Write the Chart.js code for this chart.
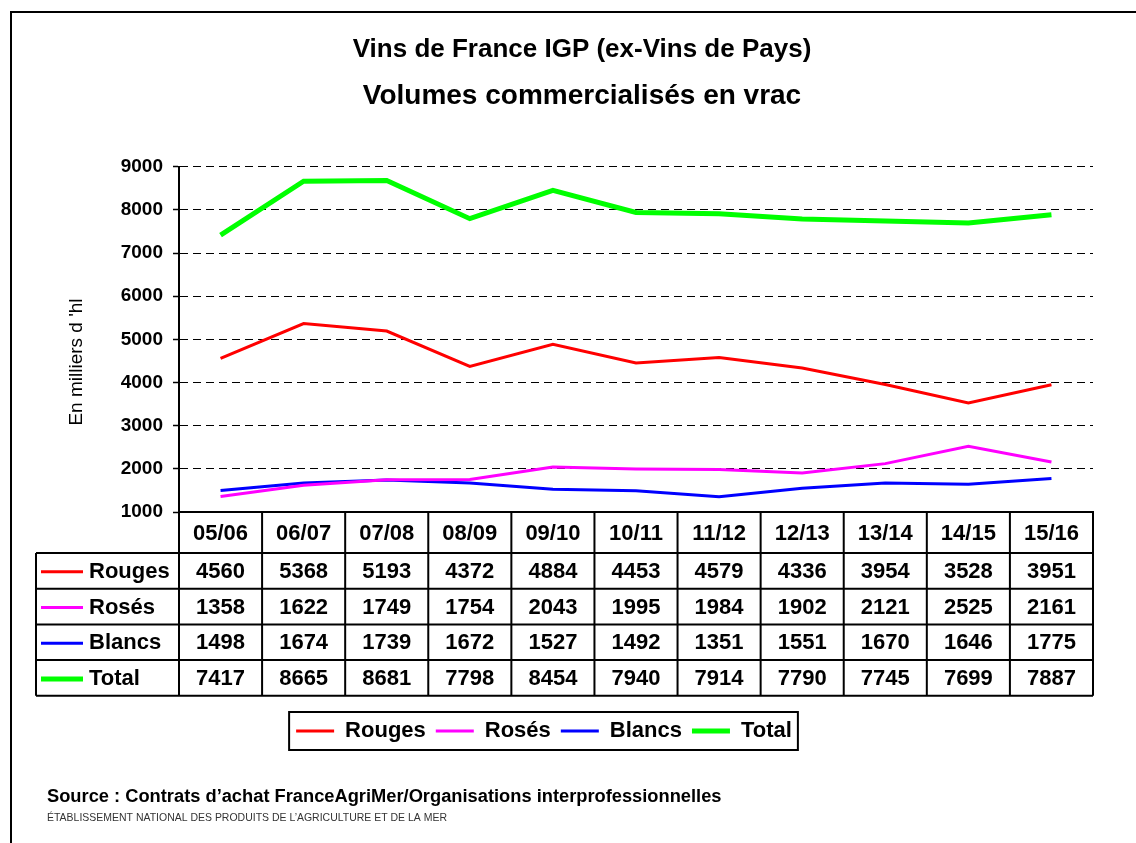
<!DOCTYPE html>
<html>
<head>
<meta charset="utf-8">
<title>Vins de France IGP - Volumes commercialisés en vrac</title>
<script src="https://cdn.jsdelivr.net/npm/chart.js@4.4.1/dist/chart.umd.min.js"></script>
<style>
  html, body { margin: 0; padding: 0; background: #fff; }
  canvas { display: block; }
</style>
</head>
<body>
<canvas id="myChart" width="1136" height="843"></canvas>
<script>
// campagnes (axe des x + entete du tableau)
var campagnes = ['05/06', '06/07', '07/08', '08/09', '09/10', '10/11', '11/12', '12/13', '13/14', '14/15', '15/16'];

// volumes en milliers d'hl
var rouges = [4560, 5368, 5193, 4372, 4884, 4453, 4579, 4336, 3954, 3528, 3951];
var roses  = [1358, 1622, 1749, 1754, 2043, 1995, 1984, 1902, 2121, 2525, 2161];
var blancs = [1498, 1674, 1739, 1672, 1527, 1492, 1351, 1551, 1670, 1646, 1775];
var total  = [7417, 8665, 8681, 7798, 8454, 7940, 7914, 7790, 7745, 7699, 7887];

// graduations de l'axe des y
var yMin = 1000;
var yMax = 9000;
var yStep = 1000;

var police = '"Liberation Sans", Arial, sans-serif';
Chart.defaults.font.family = police;
Chart.defaults.color = '#000';

function serie(label, data, color, width) {
  return {
    label: label,
    data: data,
    borderColor: color,
    backgroundColor: color,
    borderWidth: width,
    pointRadius: 0,
    pointHoverRadius: 0,
    pointBorderColor: color,
    pointBorderWidth: width,
    tension: 0,
    fill: false
  };
}

// cadre, tableau de donnees, titre de l'axe, source
var habillage = {
  id: 'habillage',
  beforeDraw: function(chart) {
    var c = chart.ctx;
    c.save();
    c.fillStyle = '#fff';
    c.fillRect(0, 0, chart.width, chart.height);
    c.strokeStyle = '#000';
    c.lineWidth = 2;
    c.beginPath();
    c.moveTo(11, chart.height);
    c.lineTo(11, 12);
    c.lineTo(chart.width, 12);
    c.stroke();
    c.restore();
  },
  afterLayout: function(chart) {
    // la legende est un peu a gauche du centre sur l'original
    chart.legend.left -= 38;
    chart.legend.right -= 38;
  },
  afterDraw: function(chart) {
    var c = chart.ctx;
    var xs = chart.scales.x;
    var area = chart.chartArea;
    var col = xs.getPixelForValue(1) - xs.getPixelForValue(0);
    var top = area.bottom;
    var hHead = 41;
    var hRow = 35.7;
    var labelLeft = 36;
    var rowsTop = top + hHead;
    var sets = chart.data.datasets;
    var bottom = rowsTop + hRow * sets.length;
    var i, r, y;

    c.save();
    c.strokeStyle = '#000';
    c.lineWidth = 2;
    c.beginPath();
    for (r = 0; r <= sets.length; r++) {
      y = rowsTop + r * hRow;
      c.moveTo(labelLeft, y);
      c.lineTo(area.right, y);
    }
    c.moveTo(labelLeft, rowsTop);
    c.lineTo(labelLeft, bottom);
    for (i = 0; i <= campagnes.length; i++) {
      var x = xs.getPixelForValue(Math.min(i, campagnes.length - 1)) + (i < campagnes.length ? -col / 2 : col / 2);
      c.moveTo(x, top);
      c.lineTo(x, bottom);
    }
    c.stroke();

    c.fillStyle = '#000';
    c.textAlign = 'center';
    c.textBaseline = 'middle';
    c.font = 'bold 22px ' + police;
    for (i = 0; i < campagnes.length; i++) {
      c.fillText(campagnes[i], xs.getPixelForValue(i), top + hHead / 2 + 1);
    }
    sets.forEach(function(ds, r) {
      var yc = rowsTop + r * hRow + hRow / 2 + 1;
      c.strokeStyle = ds.borderColor;
      c.lineWidth = ds.borderWidth;
      c.beginPath();
      c.moveTo(41, yc);
      c.lineTo(83, yc);
      c.stroke();
      c.textAlign = 'left';
      c.fillText(ds.label, 89, yc);
      c.textAlign = 'center';
      ds.data.forEach(function(v, i) {
        c.fillText(String(v), xs.getPixelForValue(i), yc);
      });
    });

    // cadre de la legende
    var boxes = chart.legend.legendHitBoxes;
    if (boxes && boxes.length) {
      var l = boxes[0].left, rt = boxes[0].left + boxes[0].width, t = boxes[0].top, h = boxes[0].height;
      boxes.forEach(function(b) {
        l = Math.min(l, b.left);
        rt = Math.max(rt, b.left + b.width);
      });
      c.strokeStyle = '#000';
      c.lineWidth = 2;
      c.strokeRect(l - 7, t - 8, rt - l + 13, h + 16);
    }

    // titre de l'axe des y
    c.save();
    c.translate(77, 362);
    c.rotate(-Math.PI / 2);
    c.font = '19px ' + police;
    c.textAlign = 'center';
    c.fillText("En milliers d 'hl", 0, 0);
    c.restore();

    // source
    c.textAlign = 'left';
    c.font = 'bold 18.3px ' + police;
    c.fillText('Source : Contrats d\u2019achat FranceAgriMer/Organisations interprofessionnelles', 47, 797);
    c.font = '11px ' + police;
    c.fillStyle = '#333';
    c.fillText('\u00c9TABLISSEMENT NATIONAL DES PRODUITS DE L\u2019AGRICULTURE ET DE LA MER', 47, 818, 400);
    c.restore();
  }
};

var ctx = document.getElementById('myChart').getContext('2d');

var myChart = new Chart(ctx, {
  type: 'line',
  data: {
    labels: campagnes,
    datasets: [
      serie('Rouges', rouges, '#ff0000', 3),
      serie('Rosés', roses, '#ff00ff', 3),
      serie('Blancs', blancs, '#0000ff', 3),
      serie('Total', total, '#00ff00', 5)
    ]
  },
  options: {
    responsive: false,
    animation: false,
    events: [],
    layout: {
      padding: { top: 12, left: 71, right: 43, bottom: 91 }
    },
    plugins: {
      title: {
        display: true,
        text: 'Vins de France IGP (ex-Vins de Pays)',
        color: '#000',
        font: { size: 26, weight: 'bold' },
        padding: { top: 22, bottom: 0 }
      },
      subtitle: {
        display: true,
        text: 'Volumes commercialisés en vrac',
        color: '#000',
        font: { size: 28, weight: 'bold' },
        padding: { top: 14, bottom: 54 }
      },
      legend: {
        position: 'bottom',
        labels: {
          usePointStyle: true,
          pointStyle: 'line',
          pointStyleWidth: 38,
          padding: 10,
          color: '#000',
          font: { size: 22, weight: 'bold' }
        }
      },
      tooltip: { enabled: false }
    },
    scales: {
      x: {
        offset: true,
        ticks: { display: false },
        grid: { display: false },
        border: { display: true, color: '#000', width: 2 },
        afterFit: function(s) { s.height = 198; }
      },
      y: {
        min: yMin,
        max: yMax,
        ticks: {
          stepSize: yStep,
          padding: 10,
          color: '#000',
          font: { size: 19, weight: 'bold' },
          callback: function(v) { return String(v); }
        },
        grid: {
          color: '#000',
          lineWidth: 1,
          tickLength: 6,
          tickColor: '#000',
          tickWidth: 1.5,
          tickBorderDash: []
        },
        border: { display: true, color: '#000', width: 2, dash: [8, 5] },
        afterFit: function(s) { s.width = 108; }
      }
    }
  },
  plugins: [habillage]
});
</script>
</body>
</html>
